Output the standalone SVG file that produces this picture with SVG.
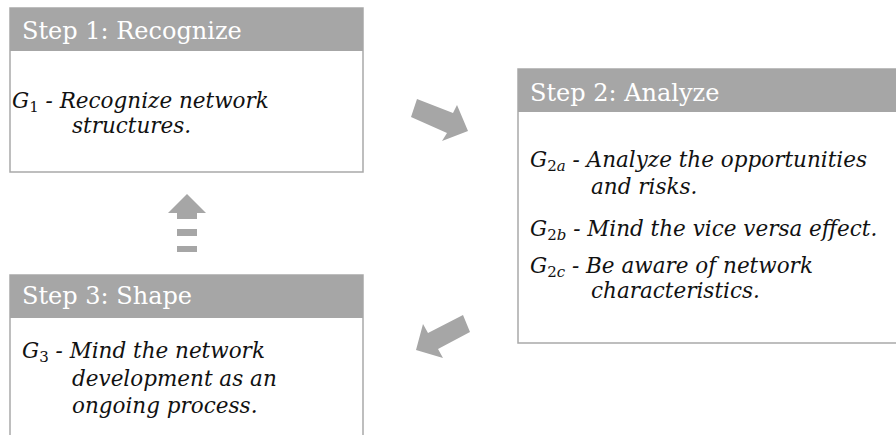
<svg xmlns="http://www.w3.org/2000/svg" width="896" height="435" viewBox="0 0 896 435">
<style>
.box{fill:#ffffff;stroke:#a9a9a9;stroke-width:1.5}
.hdr{fill:#a6a6a6}
.htxt{font-family:"DejaVu Serif",serif;font-size:24px;fill:#ffffff}
.body{font-family:"DejaVu Serif",serif;font-style:italic;font-size:21.5px;fill:#111111}
.sub{font-size:15px;font-style:normal}
.subi{font-size:15px;font-style:italic}
.arrow{fill:#a6a6a6}
</style>
<rect width="896" height="435" fill="#ffffff"/>
<g id="connectors">
<polygon class="arrow" points="417,99 453,113 457,105 468,131 442,141 447,133 411,117"/>
<polygon class="arrow" points="463,315 470,332 438,349 443,358 416,350 423,324 428,333"/>
<polygon class="arrow" points="187,194 206,213 197,213 197,219 177,219 177,213 168,213"/>
<rect class="arrow" x="177" y="229" width="20" height="7"/>
<rect class="arrow" x="177" y="246" width="20" height="6"/>
</g>
<g id="step1">
<rect class="box" x="10" y="8" width="353" height="164"/>
<rect class="hdr" x="10" y="8" width="353" height="43"/>
<text class="htxt" x="22" y="39">Step 1: Recognize</text>
<text class="body" x="12" y="108">G<tspan class="sub" dy="4">1</tspan><tspan dy="-4"> - Recognize network</tspan></text>
<text class="body" x="72" y="133">structures.</text>
</g>
<g id="step2">
<rect class="box" x="518" y="69" width="390" height="274"/>
<rect class="hdr" x="518" y="69" width="390" height="43"/>
<text class="htxt" x="530" y="101">Step 2: Analyze</text>
<text class="body" x="530" y="167">G<tspan class="sub" dy="4">2</tspan><tspan class="subi">a</tspan><tspan dy="-4"> - Analyze the opportunities</tspan></text>
<text class="body" x="591" y="194">and risks.</text>
<text class="body" x="530" y="236">G<tspan class="sub" dy="4">2</tspan><tspan class="subi">b</tspan><tspan dy="-4"> - Mind the vice versa effect.</tspan></text>
<text class="body" x="530" y="273">G<tspan class="sub" dy="4">2</tspan><tspan class="subi">c</tspan><tspan dy="-4"> - Be aware of network</tspan></text>
<text class="body" x="591" y="298">characteristics.</text>
</g>
<g id="step3">
<rect class="box" x="10" y="275" width="353" height="180"/>
<rect class="hdr" x="10" y="275" width="353" height="43"/>
<text class="htxt" x="22" y="304">Step 3: Shape</text>
<text class="body" x="22" y="358">G<tspan class="sub" dy="4">3</tspan><tspan dy="-4"> - Mind the network</tspan></text>
<text class="body" x="72" y="386">development as an</text>
<text class="body" x="72" y="413">ongoing process.</text>
</g>
</svg>
